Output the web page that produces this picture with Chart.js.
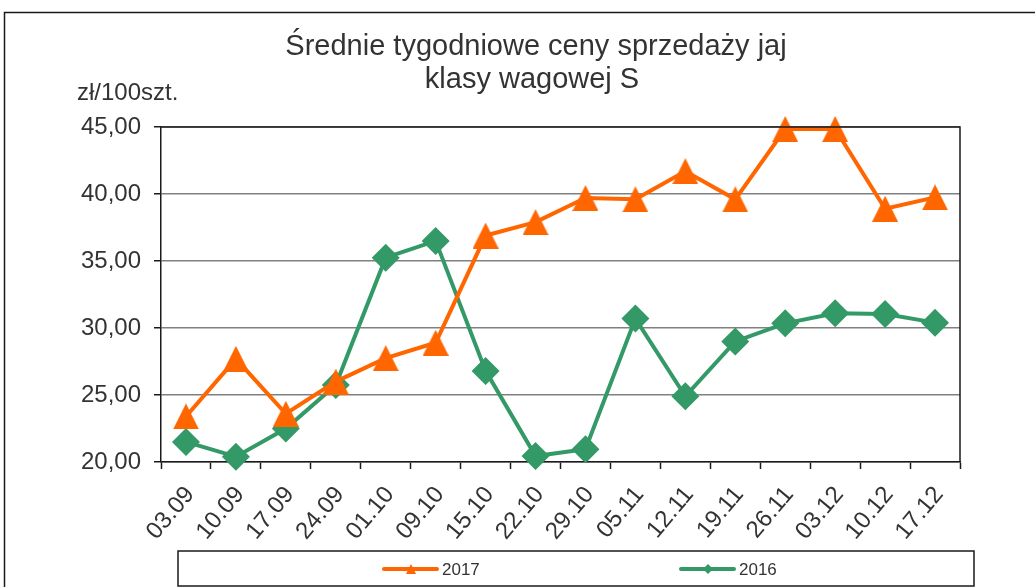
<!DOCTYPE html>
<html lang="pl">
<head>
<meta charset="utf-8">
<title>Średnie tygodniowe ceny sprzedaży jaj</title>
<script src="https://cdn.jsdelivr.net/npm/chart.js@4.4.1/dist/chart.umd.min.js"></script>
<style>
  html, body { margin: 0; padding: 0; background: #fff; }
  #wrap { width: 1035px; height: 587px; }
</style>
</head>
<body>
<div id="wrap"><canvas id="myChart" width="1035" height="587"></canvas></div>
<script>
// Data

const weeks = ["03.09", "10.09", "17.09", "24.09", "01.10", "09.10", "15.10", "22.10",
  "29.10", "05.11", "12.11", "19.11", "26.11", "03.12", "10.12", "17.12"];
const prices2017 = [23.4, 27.7, 23.6, 26.0, 27.75, 28.9, 36.9, 37.9,
  39.7, 39.6, 41.7, 39.6, 44.85, 44.85, 38.9, 39.75];
const prices2016 = [21.5, 20.4, 22.5, 25.75, 35.25, 36.5, 26.8, 20.45,
  20.95, 30.7, 24.9, 29.0, 30.35, 31.1, 31.05, 30.4];
const yTicks = [20, 25, 30, 35, 40, 45];

const titleLines = ["Średnie tygodniowe ceny sprzedaży jaj", "klasy wagowej S"];
const unitLabel = "zł/100szt.";

const ORANGE = "#ff6600";
const GREEN = "#339966";
const TEXT = "#333333";
const FONT = "'Liberation Sans', Arial, sans-serif";

// Triangle marker centred on its box (like the spreadsheet one)

function triangleMarker(w, h, color) {
  const cv = document.createElement("canvas");
  cv.width = w;
  cv.height = h;
  const c = cv.getContext("2d");
  c.fillStyle = color;
  c.beginPath();
  c.moveTo(w / 2, 0);
  c.lineTo(w, h);
  c.lineTo(0, h);
  c.closePath();
  c.fill();
  return cv;
}

// Frame, title, unit label, plot border and legend

const decorations = {
  id: "decorations",
  beforeDraw(chart) {
    const c = chart.ctx;
    c.save();
    c.fillStyle = "#fff";
    c.fillRect(0, 0, chart.width, chart.height);
    c.strokeStyle = "#1a1a1a";
    c.lineWidth = 1.5;
    c.strokeRect(4.5, 12.5, chart.width + 20, chart.height + 20);

    c.fillStyle = TEXT;
    c.textAlign = "center";
    c.textBaseline = "middle";
    c.font = "29px " + FONT;
    c.fillText(titleLines[0], 536, 47);
    c.fillText(titleLines[1], 532, 80);

    c.textAlign = "left";
    c.font = "24px " + FONT;
    c.fillText(unitLabel, 77, 93);
    c.restore();
  },
  afterDatasetsDraw(chart) {
    const a = chart.chartArea;
    const c = chart.ctx;
    c.save();
    c.strokeStyle = "#1a1a1a";
    c.lineWidth = 1.5;
    c.beginPath();
    c.moveTo(a.left, a.top);
    c.lineTo(a.right, a.top);
    c.lineTo(a.right, a.bottom);
    c.stroke();
    c.restore();
  },
  afterDraw(chart) {
    const c = chart.ctx;
    c.save();
    c.strokeStyle = "#1a1a1a";
    c.lineWidth = 1.5;
    c.strokeRect(178, 551, 796, 35);

    const y = 569;
    const items = [
      { ds: chart.data.datasets[0], x: 384, tri: true },
      { ds: chart.data.datasets[1], x: 681, tri: false },
    ];
    items.forEach(({ ds, x, tri }) => {
      c.strokeStyle = ds.borderColor;
      c.fillStyle = ds.borderColor;
      c.lineWidth = 4;
      c.lineCap = "round";
      c.beginPath();
      c.moveTo(x, y);
      c.lineTo(x + 53, y);
      c.stroke();
      const mx = x + 27;
      c.beginPath();
      if (tri) {
        c.moveTo(mx, y - 5);
        c.lineTo(mx + 5, y + 5);
        c.lineTo(mx - 5, y + 5);
      } else {
        c.moveTo(mx, y - 5);
        c.lineTo(mx + 5, y);
        c.lineTo(mx, y + 5);
        c.lineTo(mx - 5, y);
      }
      c.closePath();
      c.fill();
      c.fillStyle = TEXT;
      c.font = "17px " + FONT;
      c.textAlign = "left";
      c.textBaseline = "middle";
      c.fillText(ds.label, x + 58, y + 1);
    });
    c.restore();
  },
};

// Price Chart

const ctx = document.getElementById("myChart");

new Chart(ctx, {
  type: "line",
  data: {
    labels: weeks,
    datasets: [
      {
        label: "2017",
        data: prices2017,
        borderColor: ORANGE,
        backgroundColor: ORANGE,
        borderWidth: 4,
        pointStyle: triangleMarker(26, 26, ORANGE),
        pointRadius: 13,
        pointHoverRadius: 13,
        pointBorderWidth: 0,
        tension: 0,
        clip: false,
      },
      {
        label: "2016",
        data: prices2016,
        borderColor: GREEN,
        backgroundColor: GREEN,
        borderWidth: 4,
        pointStyle: "rectRot",
        pointRadius: 14,
        pointHoverRadius: 14,
        pointBorderWidth: 0,
        tension: 0,
        clip: false,
      },
    ],
  },
  options: {
    responsive: false,
    animation: false,
    devicePixelRatio: 1,
    layout: {
      padding: { top: 127, left: 0, right: 75, bottom: 45 },
    },
    plugins: {
      legend: { display: false },
      title: { display: false },
      tooltip: { enabled: false },
    },
    scales: {
      x: {
        offset: true,
        afterFit: (scale) => { scale.height = 80; },
        grid: {
          offset: true,
          drawOnChartArea: false,
          tickLength: 7,
          tickColor: "#1a1a1a",
          tickWidth: 1.5,
        },
        border: { color: "#1a1a1a", width: 1.5 },
        ticks: {
          autoSkip: false,
          minRotation: 50,
          maxRotation: 50,
          padding: 12,
          labelOffset: 4,
          color: TEXT,
          font: { family: FONT, size: 24 },
        },
      },
      y: {
        min: 20,
        max: 45,
        afterFit: (scale) => { scale.width = 161; },
        afterBuildTicks: (scale) => {
          scale.ticks = yTicks.map((v) => ({ value: v }));
        },
        grid: {
          color: "#808080",
          lineWidth: 1.5,
          tickLength: 7,
          tickColor: "#1a1a1a",
          tickWidth: 1.5,
        },
        border: { color: "#1a1a1a", width: 1.5 },
        ticks: {
          padding: 13,
          color: TEXT,
          font: { family: FONT, size: 24 },
          callback: (v) => v.toFixed(2).replace(".", ","),
        },
      },
    },
  },
  plugins: [decorations],
});
</script>
</body>
</html>
